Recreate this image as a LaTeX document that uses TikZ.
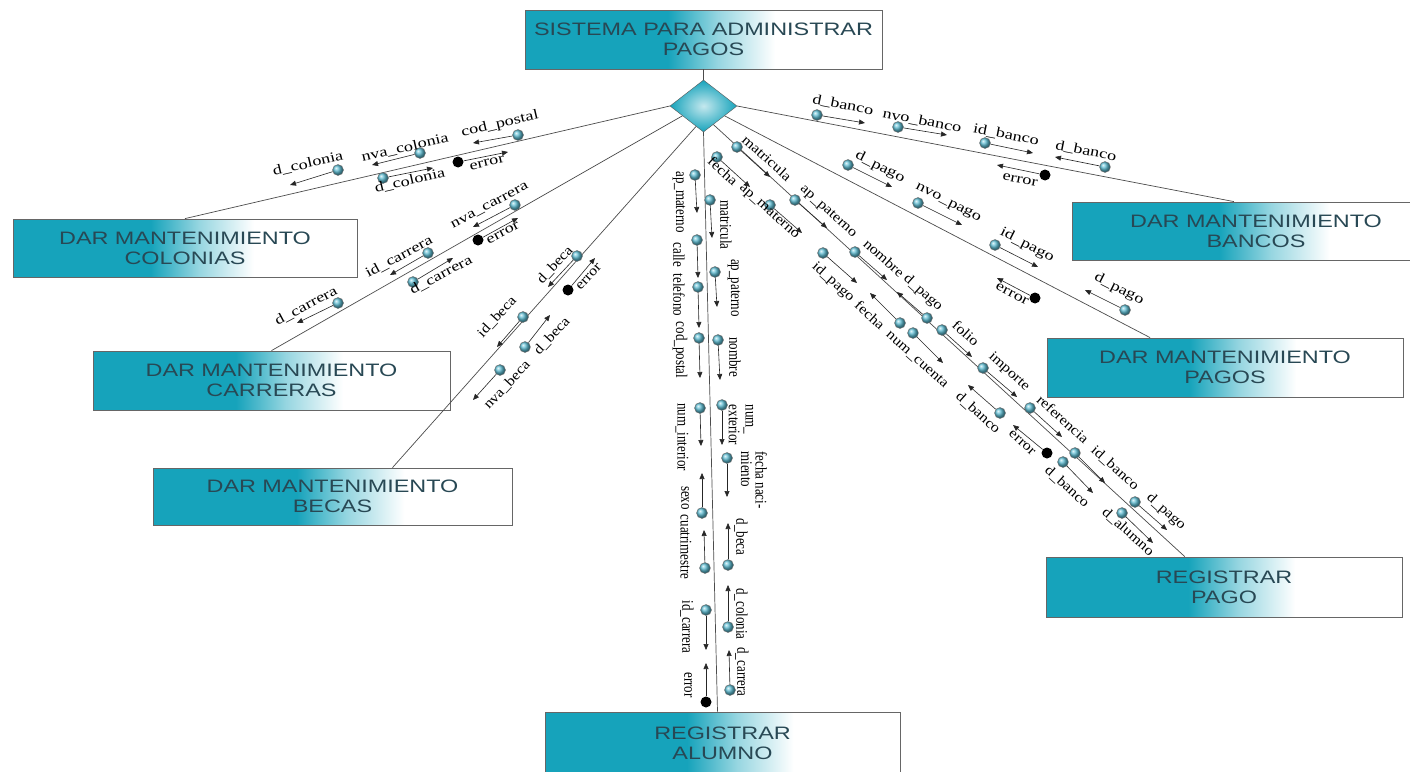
\documentclass[tikz,border=0pt]{standalone}
\usepackage{fontspec}
\usepackage{graphicx}
\setmainfont{Liberation Serif}
\newfontfamily\boxfont[FakeStretch=1.3]{Liberation Sans}
\newfontfamily\lblfont[FakeStretch=1.3]{Liberation Serif}
\newfontfamily\lblfontd[FakeStretch=1.15]{Liberation Serif}
\newfontfamily\vlblfont{Liberation Serif}
\usetikzlibrary{arrows.meta,shapes.geometric,calc}

\definecolor{boxteal}{RGB}{22,163,187}
\definecolor{boxtext}{RGB}{40,72,84}
\definecolor{ballcyan}{RGB}{95,190,212}
\pgfdeclarehorizontalshading{boxfill}{100bp}{color(0bp)=(boxteal); color(25bp)=(boxteal);
  color(45bp)=(boxteal); color(52bp)=(boxteal!45!white); color(60bp)=(white); color(100bp)=(white)}

% couple: ball style, name, ball at, arrow tip, label at, label style, text
\newcommand{\cpl}[7][dball]{%
  \node[#1] (#2) at (#3) {};
  \coordinate (#2-t) at (#4);
  \draw[flow] (#2) -- (#2-t);
  \node[#6] (#2-l) at (#5) {#7};
}
% taller glyphs for the vertical labels
\newcommand{\vs}[1]{\scalebox{1}[1.25]{#1}}

\begin{document}
\begin{tikzpicture}[
  x=1pt, y=-1pt,
  box/.style={draw=gray!80!black, line width=0.8pt, shade, shading=boxfill, text=boxtext,
              font=\boxfont\fontsize{18}{20}\selectfont, align=center, inner sep=0pt},
  link/.style={draw=black!70, line width=0.7pt},
  flow/.style={-{Triangle[length=6pt,width=5pt]}, line width=0.6pt, black!85},
  dball/.style={circle, inner sep=0pt, minimum size=11pt, ball color=ballcyan, draw=black!55, line width=0.4pt},
  cball/.style={circle, inner sep=0pt, minimum size=11pt, fill=black},
  lbl/.style={font=\lblfont\fontsize{14}{15}\selectfont, inner sep=0pt, align=center},
  lbld/.style={font=\lblfontd\fontsize{14}{15}\selectfont, inner sep=0pt, align=center},
  lcol/.style={lbl, rotate=13},
  lcar/.style={lbl, rotate=28},
  lbec/.style={lbld, rotate=47},
  lalu/.style={font=\vlblfont\fontsize{13}{15}\selectfont, inner sep=0pt, rotate=-90},
  lpag/.style={lbld, rotate=-42},
  lpgs/.style={lbl, rotate=-27},
  lban/.style={lbl, rotate=-11}
]
\fill[white] (0,0) rectangle (1410,771);
\useasboundingbox (0,0) rectangle (1410,771);

% modules
\node[box, minimum width=357pt, minimum height=59pt] (sys) at (703.5,39.5) {SISTEMA PARA ADMINISTRAR\\PAGOS};
\node[diamond, draw=gray!70!black, shade, inner color=white!75!boxteal, outer color=boxteal,
      minimum width=67pt, minimum height=52pt, inner sep=0pt] (hub) at (703.5,106) {};
\node[box, minimum width=344pt, minimum height=58pt] (colon) at (185,248) {DAR MANTENIMIENTO\\COLONIAS};
\node[box, minimum width=357pt, minimum height=59pt] (carr) at (271.5,380.5) {DAR MANTENIMIENTO\\CARRERAS};
\node[box, minimum width=359pt, minimum height=57pt] (becas) at (332.5,496.5) {DAR MANTENIMIENTO\\BECAS};
\node[box, minimum width=355pt, minimum height=63pt] (alum) at (722.5,743.5) {REGISTRAR\\ALUMNO};
\node[box, minimum width=356pt, minimum height=60pt] (pago) at (1224,587) {REGISTRAR\\PAGO};
\node[box, minimum width=356pt, minimum height=59pt] (pagos) at (1225,367.5) {DAR MANTENIMIENTO\\PAGOS};
\node[box, minimum width=368pt, minimum height=58pt] (banc) at (1256,231) {DAR MANTENIMIENTO\\BANCOS};

% connectors
\draw[link] (sys) -- (hub);
\draw[link] (hub.west) -- (colon.north);
\draw[link] (hub.205) -- (carr.north);
\draw[link] (hub.250) -- ($(becas.north)+(60,0)$);
\draw[link] (hub.south) -- ($(alum.north)+(-5,0)$);
\draw[link] (hub.-62) -- ($(pago.north west)!0.39!(pago.north east)$);
\draw[link] (hub.-25) -- ($(pagos.north west)!0.29!(pagos.north east)$);
\draw[link] (hub.east) -- ($(banc.north west)!0.44!(banc.north east)$);

% colonias
\cpl{cpCodPostal}{518,135}{473,143}{500,124}{lcol}{cod\_postal}
\cpl{cpNvaCol}{420,153}{372,165}{405,148}{lcol}{nva\_colonia}
\cpl{cpDCol1}{338,170}{290,185}{308,164}{lcol}{d\_colonia}
\cpl{cpDCol2}{383,178}{433,168}{410,181}{lcol}{d\_colonia}
\cpl[cball]{cpErrCol}{458,162}{508,152}{487,163}{lcol}{error}

% carreras
\cpl{cpNvaCar}{515,205}{473,227}{490,206}{lcar}{nva\_carrera}
\cpl[cball]{cpErrCar}{478,240}{518,218}{503,233}{lcar}{error}
\cpl{cpIdCar}{428,253}{390,275}{399,257}{lcar}{id\_carrera}
\cpl{cpDCar1}{413,282}{453,258}{441,275}{lcar}{d\_carrera}
\cpl{cpDCar2}{338,303}{297,323}{306,306}{lcar}{d\_carrera}

% becas
\cpl{cpDBeca1}{577,256}{548,287}{555,265}{lbec}{d\_beca}
\cpl[cball]{cpErrBec}{568,290}{595,258}{589,277}{lbec}{error}
\cpl{cpIdBeca}{523,317}{497,347}{497,317}{lbec}{id\_beca}
\cpl{cpDBeca2}{525,347}{550,315}{552,336}{lbec}{d\_beca}
\cpl{cpNvaBeca}{500,370}{473,400}{507,385}{lbec}{nva\_beca}

% alumno
\cpl{cpApMat}{695,175}{697,213}{679,202}{lalu}{\vs{ap\_materno}}
\cpl{cpCalle}{697,240}{698,278}{679,255}{lalu}{\vs{calle}}
\cpl{cpTel}{698,287}{699,328}{679,295}{lalu}{\vs{telefono}}
\cpl{cpCodP}{699,338}{700,378}{680,350}{lalu}{\vs{cod\_postal}}
\cpl{cpNumInt}{700,408}{701,446}{682,437}{lalu}{\vs{num\_interior}}
\cpl{cpSexo}{702,513}{702,473}{685,498}{lalu}{\vs{sexo}}
\cpl{cpCuatri}{705,568}{704,530}{686,547}{lalu}{\vs{cuatrimestre}}
\cpl{cpIdCarA}{706,610}{706,650}{687,627}{lalu}{\vs{id\_carrera}}
\cpl[cball]{cpErrAlu}{706,702}{706,663}{688,685}{lalu}{\vs{error}}
\cpl{cpMatA}{710,200}{712,238}{726,225}{lalu}{\vs{matricula}}
\cpl{cpApPatA}{715,272}{717,307}{734,288}{lalu}{\vs{ap\_paterno}}
\cpl{cpNomA}{718,340}{720,380}{735,357}{lalu}{\vs{nombre}}
\cpl{cpNumExt}{722,405}{722,445}{741,425}{lalu}{\vs{\shortstack[l]{num\_\\exterior}}}
\cpl{cpFNac}{727,458}{727,497}{754,480}{lalu}{\vs{\shortstack[l]{fecha naci-\\miento}}}
\cpl{cpDBecaA}{728,565}{728,523}{741,537}{lalu}{\vs{d\_beca}}
\cpl{cpDColA}{728,627}{728,585}{741,614}{lalu}{\vs{d\_colonia}}
\cpl{cpDCarA}{730,690}{729,650}{742,672}{lalu}{\vs{d\_carrera}}

% registrar pago
\cpl{cpMatP}{737,147}{770,177}{767,158}{lpag}{matricula}
\cpl{cpApPatP}{795,200}{827,228}{828,212}{lpag}{ap\_paterno}
\cpl{cpNomP}{855,252}{887,280}{884,258}{lpag}{nombre}
\cpl{cpDPagoP1}{927,318}{897,292}{923,293}{lpag}{d\_pago}
\cpl{cpFolio}{942,330}{972,357}{966,333}{lpag}{folio}
\cpl{cpImporte}{983,368}{1017,397}{1009,372}{lpag}{importe}
\cpl{cpRef}{1030,408}{1062,437}{1063,419}{lpag}{referencia}
\cpl{cpIdBanP}{1075,453}{1105,483}{1115,468}{lpag}{id\_banco}
\cpl{cpDPagoP2}{1135,502}{1167,530}{1166,512}{lpag}{d\_pago}
\cpl{cpFechaP1}{717,157}{750,187}{723,171}{lpag}{fecha}
\cpl{cpApMatP}{770,205}{802,233}{769,212}{lpag}{ap\_materno}
\cpl{cpIdPagoP}{823,253}{857,283}{833,282}{lpag}{id\_pago}
\cpl{cpFechaP2}{900,323}{870,293}{870,315}{lpag}{fecha}
\cpl{cpNumCta}{913,333}{943,363}{917,360}{lpag}{num\_cuenta}
\cpl{cpDBanP1}{1000,413}{968,385}{978,413}{lpag}{d\_banco}
\cpl[cball]{cpErrP}{1047,453}{1013,425}{1022,443}{lpag}{error}
\cpl{cpDBanP2}{1063,462}{1093,493}{1067,487}{lpag}{d\_banco}
\cpl{cpDAlu}{1122,513}{1153,543}{1128,532}{lpag}{d\_alumno}

% mantenimiento pagos
\cpl{cpDPagoG1}{848,165}{892,187}{880,167}{lpgs}{d\_pago}
\cpl{cpNvoPago}{918,203}{962,225}{948,203}{lpgs}{nvo\_pago}
\cpl{cpIdPagoG}{995,245}{1038,267}{1027,245}{lpgs}{id\_pago}
\cpl[cball]{cpErrG}{1035,298}{997,278}{1012,294}{lpgs}{error}
\cpl{cpDPagoG2}{1125,310}{1085,290}{1119,289}{lpgs}{d\_pago}

% mantenimiento bancos
\cpl{cpDBan1}{817,115}{865,123}{843,105}{lban}{d\_banco}
\cpl{cpNvoBan}{898,127}{947,135}{922,121}{lban}{nvo\_banco}
\cpl{cpIdBan}{985,143}{1033,153}{1006,135}{lban}{id\_banco}
\cpl{cpDBan2}{1105,167}{1055,157}{1086,151}{lban}{d\_banco}
\cpl[cball]{cpErrBan}{1045,175}{997,165}{1020,180}{lban}{error}
\end{tikzpicture}
\end{document}
